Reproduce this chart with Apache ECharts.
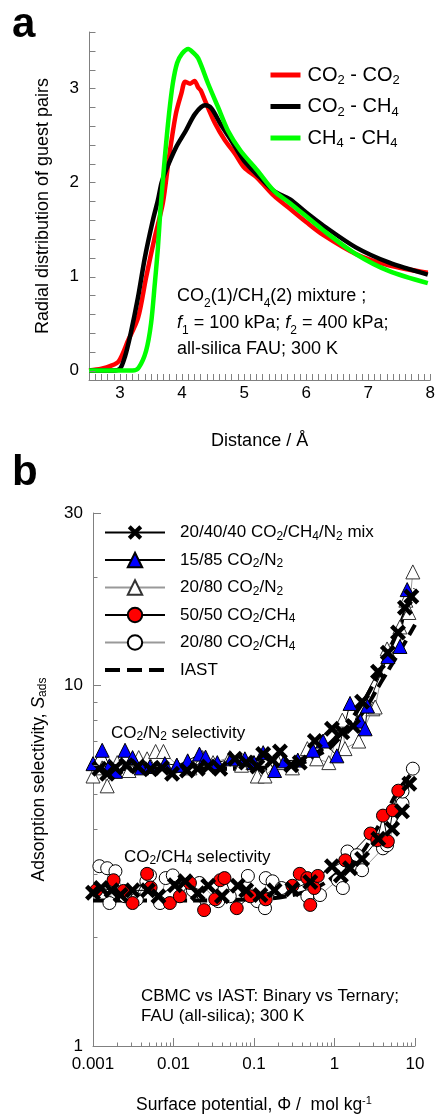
<!DOCTYPE html>
<html>
<head>
<meta charset="utf-8">
<script src="https://cdn.jsdelivr.net/npm/echarts@6.0.0/dist/echarts.min.js"></script>
<style>
html, body { margin: 0; padding: 0; background: #fff; }
#main { width: 438px; height: 1115px; }
</style>
</head>
<body>
<div id="main"></div>
<script>
// ---- panel a: radial distribution of guest pairs, [distance (Å), g]
const rdfCO2CO2 = [[2.5,0],[2.7,0.02],[2.85,0.05],[2.98,0.1],[3.13,0.32],[3.29,0.56],[3.42,0.99],[3.56,1.42],[3.69,1.78],[3.79,2.27],[3.9,2.73],[3.99,2.95],[4.05,3.07],[4.13,3.05],[4.2,3.08],[4.26,3.01],[4.3,2.98],[4.37,2.87],[4.53,2.63],[4.69,2.45],[4.85,2.31],[5.0,2.16],[5.21,2.05],[5.48,1.86],[5.74,1.72],[6.0,1.58],[6.28,1.44],[6.8,1.24],[7.33,1.12],[7.96,1.04]];
const rdfCO2CH4 = [[2.5,0],[2.9,0],[3.0,0.02],[3.08,0.15],[3.17,0.39],[3.29,0.78],[3.4,1.2],[3.53,1.6],[3.61,1.81],[3.67,2.0],[3.74,2.13],[3.9,2.37],[4.06,2.55],[4.21,2.73],[4.37,2.82],[4.47,2.79],[4.63,2.61],[4.79,2.45],[5.0,2.23],[5.26,2.05],[5.48,1.91],[5.74,1.82],[6.0,1.68],[6.28,1.54],[6.8,1.31],[7.33,1.15],[7.96,1.02]];
const rdfCH4CH4 = [[2.5,0],[3.2,0],[3.3,0.03],[3.42,0.21],[3.5,0.5],[3.56,0.92],[3.61,1.3],[3.65,1.7],[3.72,2.25],[3.79,2.73],[3.85,3.05],[3.92,3.27],[4.0,3.37],[4.1,3.42],[4.18,3.38],[4.26,3.32],[4.42,3.05],[4.58,2.8],[4.74,2.55],[4.94,2.34],[5.21,2.13],[5.48,1.91],[5.74,1.78],[6.28,1.49],[6.8,1.24],[7.33,1.06],[7.96,0.93]];
const yTicksA = [0,0.2,0.4,0.6,0.8,1,1.2,1.4,1.6,1.8,2,2.2,2.4,2.6,2.8,3,3.2,3.4,3.6];

// ---- panel b: adsorption selectivity vs surface potential, [phi, S]
const mixN2 = [[0.0012,5.87],[0.0015,5.68],[0.0019,5.9],[0.0026,6.0],[0.0036,5.95],[0.0052,5.85],[0.0072,5.9],[0.0096,5.68],[0.0147,5.8],[0.02,5.87],[0.027,5.95],[0.038,5.87],[0.058,6.25],[0.08,6.1],[0.11,5.95],[0.13,6.44],[0.17,6.2],[0.21,6.55],[0.29,6.0],[0.37,6.1],[0.57,7.0],[0.93,7.57],[1.25,7.4],[1.7,7.7],[2.2,9.0],[3.47,10.9],[4.6,12.3],[6.15,14.0],[7.5,16.4],[9.0,17.6]];
const mixCH4 = [[0.001,2.66],[0.00126,2.74],[0.0017,2.7],[0.0022,2.62],[0.0031,2.7],[0.0048,2.7],[0.0065,2.6],[0.0104,2.79],[0.014,2.86],[0.02,2.65],[0.027,2.78],[0.04,2.6],[0.063,2.78],[0.08,2.7],[0.12,2.62],[0.18,2.7],[0.3,2.72],[0.5,2.85],[0.93,3.15],[1.2,2.97],[1.56,3.11],[2.2,3.3],[3.5,3.75],[5.2,4.0],[6.9,4.47],[8.5,5.33]];
const n2_15_85 = [[0.001,6.06],[0.0013,6.6],[0.0016,5.98],[0.0019,5.77],[0.0025,6.6],[0.0031,6.3],[0.004,5.9],[0.0051,5.95],[0.0078,6.06],[0.011,6.0],[0.015,6.17],[0.021,6.44],[0.025,6.32],[0.035,6.1],[0.052,6.25],[0.077,6.25],[0.1,6.1],[0.13,6.5],[0.18,5.8],[0.24,6.17],[0.35,6.2],[0.54,6.6],[0.72,7.0],[1.07,6.37],[1.56,8.9],[2.1,7.95],[2.4,7.57],[2.57,8.75],[4.6,12.0],[6.5,12.8],[8.0,18.4]];
const n2_20_80 = [[0.001,5.6],[0.0013,5.9],[0.0015,5.26],[0.002,6.1],[0.0028,5.8],[0.0037,6.3],[0.0047,6.25],[0.006,6.55],[0.0075,6.55],[0.011,6.0],[0.016,5.9],[0.023,6.3],[0.031,6.1],[0.05,6.3],[0.07,6.0],[0.097,6.1],[0.11,5.6],[0.137,5.6],[0.2,6.1],[0.3,5.9],[0.46,6.67],[0.6,6.25],[0.85,6.1],[1.25,8.0],[1.35,6.67],[2.0,7.0],[3.0,8.6],[3.2,8.7],[4.5,12.6],[6.5,14.5],[7.7,17.2],[8.4,15.9],[9.4,20.6]];
const ch4_50_50 = [[0.0011,2.7],[0.0018,2.88],[0.0024,2.69],[0.0031,2.49],[0.0047,3.0],[0.0052,2.75],[0.009,2.49],[0.012,2.6],[0.016,2.83],[0.024,2.38],[0.033,2.55],[0.038,2.88],[0.043,2.92],[0.061,2.41],[0.09,2.6],[0.14,2.55],[0.3,2.78],[0.37,3.0],[0.46,2.92],[0.5,2.46],[0.56,2.74],[0.62,2.96],[1.36,3.27],[2.8,3.88],[3.4,3.72],[4.0,4.35],[4.6,3.69],[5.3,4.5],[6.2,5.1]];
const ch4_20_80 = [[0.0012,3.15],[0.0015,3.11],[0.0016,2.49],[0.0019,3.05],[0.0025,2.6],[0.0035,2.55],[0.0046,2.86],[0.0051,2.97],[0.0068,2.49],[0.008,2.92],[0.0098,2.97],[0.0174,2.7],[0.021,2.83],[0.036,2.52],[0.05,2.6],[0.084,2.96],[0.11,2.52],[0.137,2.41],[0.14,2.92],[0.17,2.86],[0.22,2.74],[0.46,2.6],[0.66,2.62],[1.1,2.88],[1.27,2.74],[1.45,3.46],[1.9,3.38],[2.2,3.07],[4.0,3.53],[4.5,3.6],[7.0,4.7],[7.0,5.07],[9.4,5.87]];
const iastN2a = [[0.001,5.87],[0.01,5.87],[0.1,5.9],[0.3,6.05],[0.6,6.5],[1,7.1],[2,8.6],[3,10],[4,11.5],[6,14],[8,16.5],[10,18.5]];
const iastN2b = [[0.001,5.87],[0.1,5.87],[0.3,5.98],[0.8,6.6],[1,6.9],[2,8.1],[4,10.4],[7,12.8],[10,14.7]];
const iastCH4 = [[0.001,2.53],[0.01,2.53],[0.1,2.55],[0.3,2.62],[0.66,2.78],[1.27,3.1],[2.07,3.38],[3.2,3.93],[4.5,4.47],[6,5.05],[8,5.5],[10,5.85]];
const xDecadesB = [0.001, 0.01, 0.1, 1];
const yMinorB = [2,3,4,5,6,7,8,9,20];

const xMinorB = [];
xDecadesB.forEach(d => { for (let k = 2; k <= 9; k++) xMinorB.push(d * k); });

const FONT = 'Liberation Sans, Arial, sans-serif';
const AX = '#808080';
const sub = { fontSize: 12, lineHeight: 10, verticalAlign: 'bottom', fontFamily: FONT, color: '#000' };
const sup = { fontSize: 11, lineHeight: 10, verticalAlign: 'top', fontFamily: FONT, color: '#000' };
const XMARK = 'path://M2,0L5,3L8,0L10,2L7,5L10,8L8,10L5,7L2,10L0,8L3,5L0,2Z';
const DASH = [14, 6];

const labelsA = {
  'CO2 - CO2': '{n|CO}{s|2}{n| - CO}{s|2}',
  'CO2 - CH4': '{n|CO}{s|2}{n| - CH}{s|4}',
  'CH4 - CH4': '{n|CH}{s|4}{n| - CH}{s|4}'
};
const labelsB = {
  mix: '{n|20/40/40 CO}{s|2}{n|/CH}{s|4}{n|/N}{s|2}{n| mix}',
  n15: '{n|15/85 CO}{s|2}{n|/N}{s|2}',
  n20: '{n|20/80 CO}{s|2}{n|/N}{s|2}',
  c50: '{n|50/50 CO}{s|2}{n|/CH}{s|4}',
  c20: '{n|20/80 CO}{s|2}{n|/CH}{s|4}',
  IAST: '{n|IAST}'
};

// small axis ticks drawn through the axis scales
function tickMarks(xi, yi, pts, dx, dy) {
  return {
    type: 'custom', xAxisIndex: xi, yAxisIndex: yi, silent: true, z: 5, data: pts,
    renderItem: (p, api) => {
      const c = api.coord([api.value(0), api.value(1)]);
      const x = Math.round(c[0]) + 0.5, y = Math.round(c[1]) + 0.5;
      return { type: 'line', shape: { x1: x, y1: y, x2: x + dx, y2: y + dy }, style: { stroke: AX, lineWidth: 1 } };
    }
  };
}

function lineA(name, data, color) {
  return { name, type: 'line', xAxisIndex: 0, yAxisIndex: 0, data, symbol: 'none', smooth: 0.3,
    lineStyle: { color, width: 4.5 }, itemStyle: { color } };
}
function lineB(name, data, o) {
  return Object.assign({ name, type: 'line', xAxisIndex: 1, yAxisIndex: 1, data }, o);
}

const chart = echarts.init(document.getElementById('main'));
chart.setOption({
  animation: false,
  textStyle: { fontFamily: FONT },
  grid: [
    { left: 89, top: 32, width: 346, height: 348 },
    { left: 93, top: 513, width: 322, height: 536 }
  ],
  xAxis: [
    {
      gridIndex: 0, type: 'value', min: 2.5, max: 8, interval: 0.5,
      axisLine: { onZero: false, lineStyle: { color: AX } },
      axisTick: { inside: true, length: 6, lineStyle: { color: AX } },
      minorTick: { show: true, splitNumber: 5, length: 6, lineStyle: { color: AX } },
      splitLine: { show: false },
      axisLabel: { color: '#000', fontSize: 17, margin: 5,
        formatter: v => Math.abs(v - Math.round(v)) < 1e-6 ? String(Math.round(v)) : '' },
      name: 'Distance / Å', nameLocation: 'middle', nameGap: 52,
      nameTextStyle: { color: '#000', fontSize: 18 }
    },
    {
      gridIndex: 1, type: 'log', logBase: 10, min: 0.001, max: 10,
      axisLine: { onZero: false, lineStyle: { color: AX } },
      axisTick: { inside: true, length: 8, lineStyle: { color: AX } },
      splitLine: { show: false },
      axisLabel: { color: '#000', fontSize: 17, margin: 10,
        formatter: v => String(Number(v.toPrecision(1))) },
      name: '{n|Surface potential, Φ /  mol kg}{p|-1}', nameLocation: 'middle', nameGap: 49,
      nameTextStyle: { rich: { n: { fontSize: 17.5, lineHeight: 20, color: '#000', fontFamily: FONT }, p: sup } }
    }
  ],
  yAxis: [
    {
      gridIndex: 0, type: 'value', min: -0.1, max: 3.6, interval: 0.1,
      axisLine: { onZero: false, lineStyle: { color: AX } },
      axisTick: { show: false },
      splitLine: { show: false },
      axisLabel: { color: '#000', fontSize: 17, margin: 10,
        formatter: v => Math.abs(v - Math.round(v)) < 1e-6 ? String(Math.round(v)) : '' },
      name: 'Radial distribution of guest pairs', nameLocation: 'middle', nameGap: 37,
      nameTextStyle: { color: '#000', fontSize: 18 }
    },
    {
      gridIndex: 1, type: 'log', logBase: 10, min: 1, max: 30,
      axisLine: { onZero: false, lineStyle: { color: AX } },
      axisTick: { inside: true, length: 8, lineStyle: { color: AX } },
      splitLine: { show: false },
      axisLabel: { color: '#000', fontSize: 17, margin: 10,
        formatter: v => String(Math.round(v)) },
      name: '{n|Adsorption selectivity, }{i|S}{s|ads}', nameLocation: 'middle', nameGap: 44,
      nameTextStyle: { rich: {
        n: { fontSize: 17.5, lineHeight: 20, color: '#000', fontFamily: FONT },
        i: { fontSize: 17.5, lineHeight: 20, color: '#000', fontStyle: 'italic', fontFamily: FONT },
        s: sub } }
    }
  ],
  legend: [
    {
      data: Object.keys(labelsA).map(n => ({ name: n, itemStyle: { opacity: 0 }, lineStyle: { width: 5 } })),
      orient: 'vertical', left: 268, top: 65, padding: 0, itemWidth: 30, itemHeight: 16, itemGap: 9.5,
      selectedMode: false, formatter: n => labelsA[n],
      textStyle: { padding: [0, 0, 0, 2], rich: {
        n: { fontSize: 20, lineHeight: 24, color: '#000', fontFamily: FONT },
        s: { fontSize: 13, lineHeight: 12, verticalAlign: 'bottom', color: '#000', fontFamily: FONT } } }
    },
    {
      data: ['mix', 'n15', 'n20', 'c50', 'c20',
        { name: 'IAST', itemStyle: { opacity: 0 }, lineStyle: { width: 4, type: [15, 7] } }],
      orient: 'vertical', left: 103, top: 524, padding: 0, itemWidth: 60, itemHeight: 18, itemGap: 9,
      selectedMode: false, formatter: n => labelsB[n],
      textStyle: { padding: [0, 0, 0, 10], rich: {
        n: { fontSize: 17, lineHeight: 20, color: '#000', fontFamily: FONT }, s: sub } }
    }
  ],
  graphic: [
    { type: 'text', x: 12, y: 25, style: { text: 'a', font: 'bold 42px ' + FONT, fill: '#000', verticalAlign: 'middle' } },
    { type: 'text', x: 12, y: 473, style: { text: 'b', font: 'bold 42px ' + FONT, fill: '#000', verticalAlign: 'middle' } },
    { type: 'text', x: 177, y: 323, style: {
      text: '{n|CO}{s|2}{n|(1)/CH}{s|4}{n|(2) mixture ;}\n{i|f}{s|1}{n| = 100 kPa; }{i|f}{s|2}{n| = 400 kPa;}\n{n|all-silica FAU; 300 K}',
      verticalAlign: 'middle',
      rich: {
        n: { fontSize: 18, lineHeight: 26.5, fill: '#000', fontFamily: FONT },
        i: { fontSize: 18, lineHeight: 26.5, fill: '#000', fontStyle: 'italic', fontFamily: FONT },
        s: { fontSize: 12, lineHeight: 14, verticalAlign: 'bottom', fill: '#000', fontFamily: FONT } } } },
    { type: 'text', x: 111, y: 733, style: {
      text: '{n|CO}{s|2}{n|/N}{s|2}{n| selectivity}', verticalAlign: 'middle',
      rich: { n: { fontSize: 17, lineHeight: 20, fill: '#000', fontFamily: FONT }, s: sub } } },
    { type: 'text', x: 124, y: 857, style: {
      text: '{n|CO}{s|2}{n|/CH}{s|4}{n| selectivity}', verticalAlign: 'middle',
      rich: { n: { fontSize: 17, lineHeight: 20, fill: '#000', fontFamily: FONT }, s: sub } } },
    { type: 'text', x: 141, y: 1006, style: {
      text: 'CBMC vs IAST: Binary vs Ternary;\nFAU (all-silica); 300 K', verticalAlign: 'middle',
      font: '17px ' + FONT, lineHeight: 20, fill: '#000' } }
  ],
  series: [
    lineA('CO2 - CO2', rdfCO2CO2, '#ff0000'),
    lineA('CO2 - CH4', rdfCO2CH4, '#000000'),
    lineA('CH4 - CH4', rdfCH4CH4, '#00ff00'),
    tickMarks(0, 0, yTicksA.map(t => [2.5, t]), 6, 0),

    lineB('c20', ch4_20_80, { symbol: 'circle', symbolSize: 13,
      itemStyle: { color: '#ffffff', borderColor: '#000', borderWidth: 1 }, lineStyle: { color: '#999', width: 1 } }),
    lineB('c50', ch4_50_50, { symbol: 'circle', symbolSize: 13,
      itemStyle: { color: '#ff0000', borderColor: '#000', borderWidth: 1 }, lineStyle: { color: '#000', width: 1 } }),
    lineB('n20', n2_20_80, { symbol: 'triangle', symbolSize: 14,
      itemStyle: { color: '#ffffff', borderColor: '#333', borderWidth: 1 }, lineStyle: { color: '#999', width: 1 } }),
    lineB('n15', n2_15_85, { symbol: 'triangle', symbolSize: 14,
      itemStyle: { color: '#0000ff', borderColor: '#000', borderWidth: 1 }, lineStyle: { color: '#000', width: 1 } }),
    lineB('mix', mixN2, { symbol: XMARK, symbolSize: 16,
      itemStyle: { color: '#000' }, lineStyle: { color: '#000', width: 1 } }),
    lineB('mix', mixCH4, { symbol: XMARK, symbolSize: 16,
      itemStyle: { color: '#000' }, lineStyle: { color: '#000', width: 1 } }),
    lineB('IAST', iastN2a, { symbol: 'none', smooth: 0.4, itemStyle: { color: '#000' }, lineStyle: { color: '#000', width: 4, type: DASH } }),
    lineB('IAST', iastN2b, { symbol: 'none', smooth: 0.4, itemStyle: { color: '#000' }, lineStyle: { color: '#000', width: 4, type: DASH } }),
    lineB('IAST', iastCH4, { symbol: 'none', smooth: 0.4, itemStyle: { color: '#000' }, lineStyle: { color: '#000', width: 4, type: DASH } }),
    tickMarks(1, 1, xMinorB.map(t => [t, 1]), 0, -4),
    tickMarks(1, 1, yMinorB.map(t => [0.001, t]), 4, 0)
  ]
});
</script>
</body>
</html>
